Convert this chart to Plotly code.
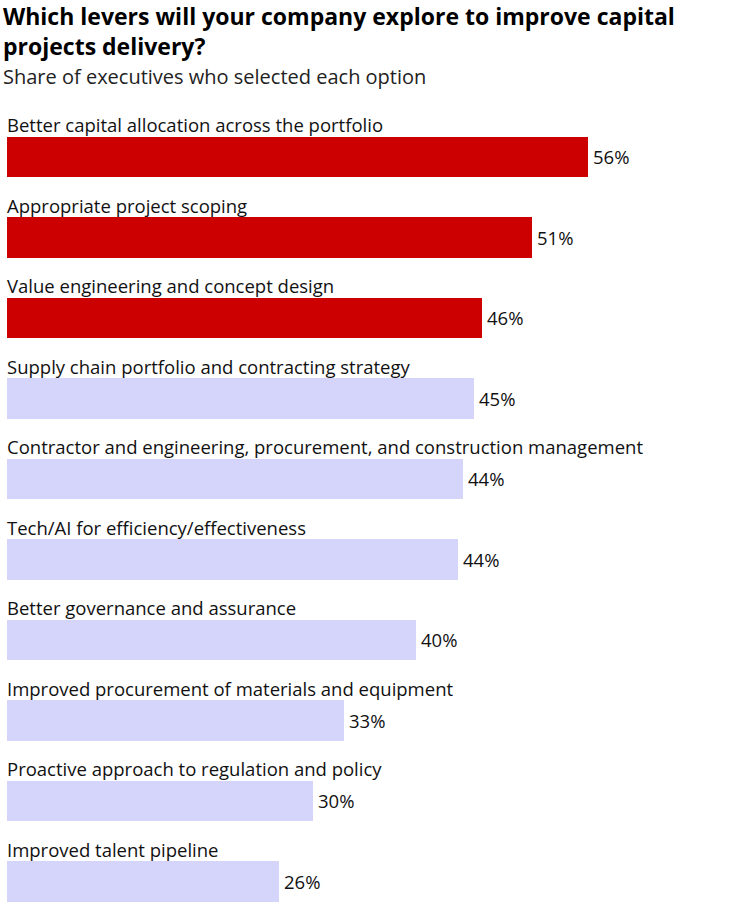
import plotly.graph_objects as go

categories = [
    "Better capital allocation across the portfolio",
    "Appropriate project scoping",
    "Value engineering and concept design",
    "Supply chain portfolio and contracting strategy",
    "Contractor and engineering, procurement, and construction management",
    "Tech/AI for efficiency/effectiveness",
    "Better governance and assurance",
    "Improved procurement of materials and equipment",
    "Proactive approach to regulation and policy",
    "Improved talent pipeline",
]
values = [56.4, 51.0, 46.1, 45.3, 44.3, 43.8, 39.7, 32.7, 29.7, 26.4]
value_labels = ["56%", "51%", "46%", "45%", "44%", "44%", "40%", "33%", "30%", "26%"]
highlight = [True, True, True, False, False, False, False, False, False, False]

RED = "#CC0000"
LAV = "#D5D5FB"
FONT = "Open Sans"

W, H = 731, 905
T, B, L, R = 100, 0, 7, 0
plot_h = H - T - B
ypos = list(range(len(categories)))

fig = go.Figure()
fig.add_trace(go.Bar(
    x=values, y=ypos, orientation="h",
    marker=dict(color=[RED if h else LAV for h in highlight], line=dict(width=0)),
    width=0.497, hoverinfo="skip", showlegend=False,
))

ann = []
for i, (c, v, t) in enumerate(zip(categories, values, value_labels)):
    ann.append(dict(x=0, y=i - 0.40, xref="x", yref="y", text=c, showarrow=False,
                    xanchor="left", yanchor="middle", xshift=-2,
                    font=dict(family=FONT, size=18.5, color="#111")))
    ann.append(dict(x=v, y=i, xref="x", yref="y", text=t, showarrow=False,
                    xanchor="left", yanchor="middle", xshift=3,
                    font=dict(family=FONT, size=18.5, color="#111")))

def py(p):
    return (H - B - p) / plot_h

ann.append(dict(x=0, y=py(-2), xref="paper", yref="paper", xshift=-6,
                text="<b>Which levers will your company explore to improve capital<br>projects delivery?</b>",
                showarrow=False, xanchor="left", yanchor="top", align="left",
                font=dict(family=FONT, size=23, color="#000")))
ann.append(dict(x=0, y=py(76), xref="paper", yref="paper", xshift=-6,
                text="Share of executives who selected each option",
                showarrow=False, xanchor="left", yanchor="middle",
                font=dict(family=FONT, size=20, color="#222")))

px_per_unit = 10.3
fig.update_layout(
    width=W, height=H,
    margin=dict(l=L, r=R, t=T, b=B, pad=0),
    paper_bgcolor="white", plot_bgcolor="white",
    xaxis=dict(range=[0, (W - L - R) / px_per_unit], visible=False, fixedrange=True),
    yaxis=dict(range=[9.292, -0.708], visible=False, fixedrange=True),
    annotations=ann,
    bargap=0,
)

fig.write_html("out.html", config={"displayModeBar": False})
